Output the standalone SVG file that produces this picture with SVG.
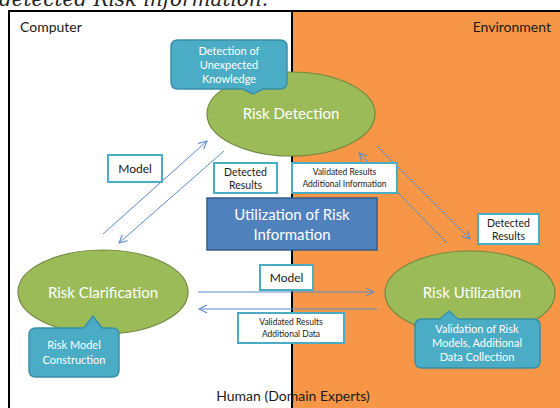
<svg xmlns="http://www.w3.org/2000/svg" width="560" height="408" viewBox="0 0 560 408">
  <style>
    .sans { font-family: Lato, "Open Sans", "Liberation Sans", sans-serif; }
    .lane { font-size: 14px; fill: #1a1a1a; }
    .ell { fill: #9BBB59; stroke: #71893F; stroke-width: 1.2; }
    .ell-text { font-size: 15px; fill: #ffffff; text-anchor: middle; }
    .call { fill: #4BACC6; stroke: #3A8FA8; stroke-width: 1.5; stroke-linejoin: round; }
    .call-text { font-size: 11px; fill: #ffffff; text-anchor: middle; }
    .tag { fill: #ffffff; stroke: #4BACC6; stroke-width: 2; }
    .tag-text { fill: #1a1a1a; text-anchor: middle; }
    .flow { stroke: #5B8BC8; stroke-width: 1; fill: none; marker-end: url(#arrow); }
  </style>
  <defs>
    <marker id="arrow" viewBox="0 0 10 10" refX="9" refY="5" markerWidth="10" markerHeight="10" markerUnits="userSpaceOnUse" orient="auto">
      <path d="M1,1 L9,5 L1,9" fill="none" stroke="#5B8BC8" stroke-width="1.1"/>
    </marker>
  </defs>

  <!-- page background and caption fragment -->
  <rect x="0" y="0" width="560" height="408" fill="#ffffff"/>
  <text x="-1" y="6" textLength="269" lengthAdjust="spacingAndGlyphs" font-family="'DejaVu Serif', 'Liberation Serif', serif" font-style="italic" font-size="21" fill="#222">detected Risk information.</text>

  <!-- lanes -->
  <g id="lanes">
    <rect x="292" y="11" width="270" height="400" fill="#F79646"/>
    <line x1="9" y1="11" x2="562" y2="11" stroke="#000" stroke-width="2"/>
    <line x1="9" y1="10" x2="9" y2="410" stroke="#000" stroke-width="2"/>
    <line x1="292" y1="10" x2="292" y2="410" stroke="#000" stroke-width="2"/>
    <text class="sans lane" x="20" y="32">Computer</text>
    <text class="sans lane" x="551" y="32" text-anchor="end">Environment</text>
    <text class="sans lane" x="293" y="401" text-anchor="middle">Human (Domain Experts)</text>
  </g>

  <!-- connectors -->
  <g id="connectors">
    <line class="flow" x1="103" y1="234" x2="207" y2="141"/>
    <line class="flow" x1="224" y1="151" x2="119" y2="243"/>
    <line class="flow" x1="447" y1="243" x2="359" y2="153"/>
    <line class="flow" x1="377" y1="146" x2="470" y2="239"/>
    <line class="flow" x1="198" y1="292" x2="374" y2="292"/>
    <line class="flow" x1="377" y1="309" x2="199" y2="309"/>
  </g>

  <!-- connector labels -->
  <g id="label-model-up">
    <rect class="tag" x="108" y="155" width="54" height="27"/>
    <text class="sans tag-text" x="135" y="173" font-size="12">Model</text>
  </g>
  <g id="label-detected-left">
    <rect class="tag" x="214" y="163" width="63" height="30"/>
    <text class="sans tag-text" x="245.5" y="176" font-size="10.5">Detected</text>
    <text class="sans tag-text" x="245.5" y="189" font-size="10.5">Results</text>
  </g>
  <g id="label-validated-info">
    <rect class="tag" x="292" y="163" width="105" height="30"/>
    <text class="sans tag-text" x="344.5" y="175" font-size="8.5">Validated Results</text>
    <text class="sans tag-text" x="344.5" y="187" font-size="8.5">Additional Information</text>
  </g>
  <g id="label-detected-right">
    <rect class="tag" x="478" y="214" width="61" height="30"/>
    <text class="sans tag-text" x="508.5" y="227" font-size="10.5">Detected</text>
    <text class="sans tag-text" x="508.5" y="240" font-size="10.5">Results</text>
  </g>
  <g id="label-model-right">
    <rect class="tag" x="260" y="265" width="53" height="25"/>
    <text class="sans tag-text" x="286.5" y="282" font-size="12">Model</text>
  </g>
  <g id="label-validated-data">
    <rect class="tag" x="238" y="313" width="106" height="30"/>
    <text class="sans tag-text" x="291" y="325" font-size="8.5">Validated Results</text>
    <text class="sans tag-text" x="291" y="337" font-size="8.5">Additional Data</text>
  </g>

  <!-- central box -->
  <g id="utilization-of-risk-information">
    <rect x="207" y="198" width="170" height="52" fill="#4F81BD" stroke="#385D8A" stroke-width="1.5"/>
    <text class="sans" x="292" y="220" font-size="15" fill="#fff" text-anchor="middle">Utilization of Risk</text>
    <text class="sans" x="292" y="240" font-size="15" fill="#fff" text-anchor="middle">Information</text>
  </g>

  <!-- process nodes -->
  <g id="risk-detection">
    <ellipse class="ell" cx="291" cy="114" rx="84" ry="42"/>
    <text class="sans ell-text" x="291" y="119">Risk Detection</text>
  </g>
  <g id="risk-clarification">
    <ellipse class="ell" cx="103" cy="292" rx="85" ry="42"/>
    <text class="sans ell-text" x="103" y="298">Risk Clarification</text>
  </g>
  <g id="risk-utilization">
    <ellipse class="ell" cx="470" cy="293" rx="85" ry="42"/>
    <text class="sans ell-text" x="472" y="298">Risk Utilization</text>
  </g>

  <!-- callouts -->
  <g id="callout-detection">
    <path class="call" d="M178,40 H280 Q287,40 287,47 V82 Q287,89 280,89 H263 L253,94 L243,89 H178 Q171,89 171,82 V47 Q171,40 178,40 Z"/>
    <text class="sans call-text" x="229" y="55">Detection of</text>
    <text class="sans call-text" x="229" y="69">Unexpected</text>
    <text class="sans call-text" x="229" y="83">Knowledge</text>
  </g>
  <g id="callout-clarification">
    <path class="call" d="M36,328 H84 L93,316 L102,328 H112 Q119,328 119,335 V370 Q119,377 112,377 H36 Q29,377 29,370 V335 Q29,328 36,328 Z"/>
    <text class="sans call-text" x="74" y="349">Risk Model</text>
    <text class="sans call-text" x="74" y="364">Construction</text>
  </g>
  <g id="callout-utilization">
    <path class="call" d="M422,319 H440 L449,311 L458,319 H533 Q540,319 540,326 V361 Q540,368 533,368 H422 Q415,368 415,361 V326 Q415,319 422,319 Z"/>
    <text class="sans call-text" x="477" y="333">Validation of Risk</text>
    <text class="sans call-text" x="477" y="347">Models, Additional</text>
    <text class="sans call-text" x="477" y="361">Data Collection</text>
  </g>
</svg>
